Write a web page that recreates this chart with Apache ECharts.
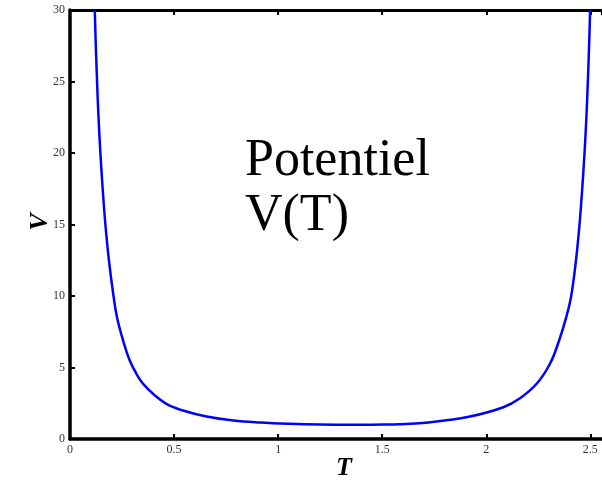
<!DOCTYPE html>
<html>
<head>
<meta charset="utf-8">
<style>
  html, body { margin: 0; padding: 0; background: #fff; }
  #chart { width: 602px; height: 481px; }
</style>
<script src="https://cdn.jsdelivr.net/npm/echarts@6/dist/echarts.min.js"></script>
</head>
<body>
<div id="chart"></div>
<script>
// values
const tValues = [0.119, 0.124, 0.130, 0.137, 0.146, 0.157, 0.170, 0.187, 0.209, 0.226, 0.255, 0.287,
  0.319, 0.351, 0.399, 0.463, 0.543, 0.656, 0.785, 0.912, 1.056, 1.2, 1.31, 1.40, 1.50, 1.58, 1.68,
  1.761, 1.922, 2.082, 2.162, 2.242, 2.306, 2.350, 2.384, 2.408, 2.431, 2.448, 2.461, 2.472,
  2.481, 2.488, 2.494, 2.499]
const vValues = [30, 27.5, 25, 22.5, 20, 17.5, 15, 12.5, 10, 8.5, 6.89, 5.49,
  4.56, 3.86, 3.16, 2.46, 1.99, 1.57, 1.29, 1.15, 1.06, 1.01, 1.0, 1.0, 1.01, 1.03, 1.1,
  1.22, 1.57, 2.22, 2.85, 3.86, 5.26, 6.89, 8.5, 10, 12.5, 15, 17.5, 20,
  22.5, 25, 27.5, 30]
const xTicks = [0, 0.5, 1, 1.5, 2, 2.5]
const yTicks = [0, 5, 10, 15, 20, 25, 30]
const titleLines = ['Potentiel', 'V(T)']
const xName = 'T'
const yName = 'V'

const serif = '"Liberation Serif", "DejaVu Serif", serif'
const chart = echarts.init(document.getElementById('chart'))

const tickLabel = v => (xTicks.some(t => Math.abs(t - v) < 1e-6) ? String(v) : '')

chart.setOption({
  animation: false,
  grid: { left: 70, right: 0, top: 10, bottom: 42, outerBoundsMode: 'none', containLabel: false },
  xAxis: [
    {
      type: 'value',
      min: 0,
      max: 2.556,
      interval: 0.5,
      position: 'bottom',
      axisLine: { onZero: false, lineStyle: { color: '#000', width: 3.5 } },
      axisTick: { inside: true, length: 5, lineStyle: { color: '#000', width: 2 } },
      axisLabel: { formatter: tickLabel, showMaxLabel: false, fontFamily: serif, fontSize: 12, color: '#333', margin: 5 },
      splitLine: { show: false }
    },
    {
      type: 'value',
      min: 0,
      max: 2.556,
      interval: 0.5,
      position: 'top',
      axisLine: { onZero: false, lineStyle: { color: '#000', width: 3 } },
      axisTick: { inside: true, length: 5, lineStyle: { color: '#000', width: 2 } },
      axisLabel: { show: false },
      splitLine: { show: false }
    }
  ],
  yAxis: {
    type: 'value',
    min: yTicks[0],
    max: yTicks[yTicks.length - 1],
    interval: 5,
    axisLine: { show: true, lineStyle: { color: '#000', width: 3.5 } },
    axisTick: { show: true, inside: true, length: 5, lineStyle: { color: '#000', width: 2 } },
    axisLabel: { fontFamily: serif, fontSize: 12, color: '#333', margin: 5 },
    splitLine: { show: false }
  },
  graphic: [
    {
      type: 'text',
      left: 245,
      top: 134,
      style: {
        text: titleLines.join('\n'),
        font: '52px ' + serif,
        lineHeight: 55,
        fill: '#000'
      }
    },
    {
      // axis names, placed like the original
      type: 'text',
      x: 344,
      y: 468,
      style: {
        text: xName,
        font: 'italic bold 26px ' + serif,
        textAlign: 'center',
        textVerticalAlign: 'middle',
        fill: '#000'
      }
    },
    {
      type: 'text',
      x: 40,
      y: 222,
      rotation: Math.PI / 2,
      style: {
        text: yName,
        font: 'italic bold 26px ' + serif,
        textAlign: 'center',
        textVerticalAlign: 'middle',
        fill: '#000'
      }
    }
  ],
  series: [
    {
      type: 'line',
      data: tValues.map((t, i) => [t, vValues[i]]),
      showSymbol: false,
      smooth: 0.4,
      lineStyle: { color: '#0000ff', width: 2.5 }
    }
  ]
})
</script>
</body>
</html>
